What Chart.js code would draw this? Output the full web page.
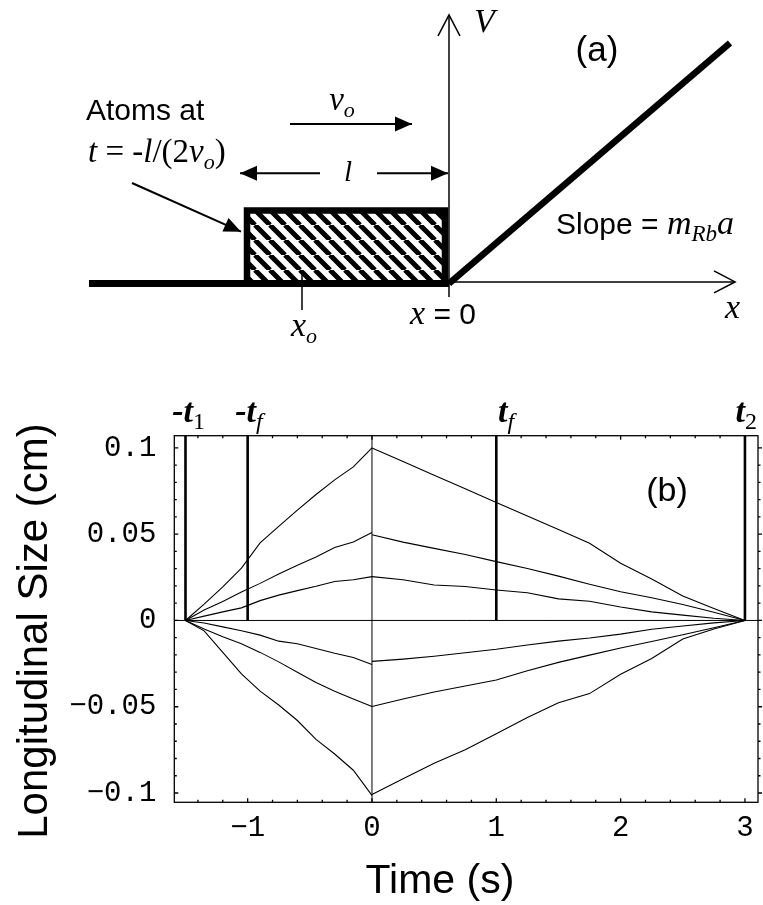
<!DOCTYPE html>
<html>
<head>
<meta charset="utf-8">
<script src="https://cdn.jsdelivr.net/npm/chart.js@4.4.0/dist/chart.umd.min.js"></script>
<style>
  body { margin: 0; background: #fff; }
  #wrap { position: relative; width: 763px; height: 905px; }
  canvas { position: absolute; left: 0; }
</style>
</head>
<body>
<div id="wrap">
  <canvas id="diagram" width="763" height="355" style="top:0"></canvas>
  <canvas id="plot" width="763" height="550" style="top:355px"></canvas>
</div>
<script>
// ---- panel (b) data: longitudinal size (cm) vs time (s)
var tLeft  = [-1.5, -1.35, -1.2, -1.05, -0.9, -0.75, -0.6, -0.45, -0.3, -0.15, 0];
var tRight = [0, 0.25, 0.5, 0.75, 1, 1.25, 1.5, 1.75, 2, 2.25, 2.5, 2.75, 3];

var upper1L = [0, 0.0095, 0.0195, 0.0304, 0.045, 0.0545, 0.064, 0.073, 0.0815, 0.089, 0.1];
var upper1R = [0.1, 0.0921, 0.0842, 0.0763, 0.0684, 0.0605, 0.0527, 0.0448, 0.0332, 0.024, 0.0142, 0.0069, 0];
var upper2L = [0, 0.006, 0.011, 0.0165, 0.0215, 0.027, 0.032, 0.0368, 0.0423, 0.0455, 0.051];
var upper2R = [0.0497, 0.0454, 0.0418, 0.0382, 0.0341, 0.0301, 0.0257, 0.021, 0.0166, 0.0132, 0.0093, 0.0048, 0];
var upper3L = [0, 0.0025, 0.005, 0.0073, 0.0115, 0.0147, 0.0173, 0.0198, 0.0226, 0.0236, 0.0254];
var upper3R = [0.0254, 0.0236, 0.0206, 0.0197, 0.0177, 0.0161, 0.0125, 0.0111, 0.0078, 0.005, 0.0031, 0.0013, 0];
var lower1L = [0, -0.006, -0.0185, -0.031, -0.041, -0.049, -0.058, -0.0689, -0.0774, -0.0868, -0.1014];
var lower1R = [-0.1009, -0.0918, -0.0828, -0.075, -0.0656, -0.0562, -0.0477, -0.0424, -0.0312, -0.022, -0.0108, -0.0049, 0];
var lower2L = [0, -0.005, -0.0095, -0.0135, -0.0185, -0.024, -0.03, -0.036, -0.041, -0.0455, -0.0499];
var lower2R = [-0.0499, -0.0455, -0.0415, -0.038, -0.0345, -0.0292, -0.0243, -0.0201, -0.016, -0.0122, -0.0083, -0.0042, 0];
var lower3L = [0, -0.0015, -0.0037, -0.006, -0.0085, -0.012, -0.0135, -0.0162, -0.019, -0.0215, -0.0255];
var lower3R = [-0.0237, -0.0224, -0.0207, -0.0187, -0.0167, -0.0142, -0.012, -0.0102, -0.0079, -0.0051, -0.0032, -0.0014, 0];

var markTimes = [-1.5, -1, 1, 3];          // -t1, -tf, tf, t2
var xTicks = [-1, 0, 1, 2, 3];
var xTickLabels = ['\u22121', '0', '1', '2', '3'];
var yTicks = [-0.1, -0.05, 0, 0.05, 0.1];
var yTickLabels = ['\u22120.1', '\u22120.05', '0', '0.05', '0.1'];
var xMin = -1.59, xMax = 3.105, yMin = -0.1054, yMax = 0.1071;

// ---- panel (a) schematic, lengths in units of the cloud size l
var floorX = [-1.8, 0], floorY = [0, 0];
var cloudX = [-1.01, -1.01, -0.02, -0.02, -1.01], cloudY = [0, 0.365, 0.365, 0, 0];
var rampX = [0, 1.405], rampY = [0, 1.2025];
var vAxisX = [0, 0], vAxisY = [-0.0675, 1.3425];
var xAxisX = [0, 1.43], xAxisY = [0.008, 0.008];
var xoTickX = [-0.735, -0.735], xoTickY = [0.0575, -0.1325];
var velX = [-0.795, -0.185], velY = [0.7975, 0.7975];
var lenLeftX = [-0.645, -1.045], lenRightX = [-0.36, -0.005], lenY = [0.551, 0.551];
var pointerX = [-1.585, -1.04], pointerY = [0.5025, 0.259];

var SERIF = '"Liberation Serif", "Times New Roman", serif';
var SANS = '"Liberation Sans", Arial, sans-serif';
var MONO = '"Liberation Mono", "Courier New", monospace';
Chart.defaults.color = '#000';

function pts(xs, ys) {
  return xs.map(function (x, i) { return {x: x, y: ys[i]}; });
}

function minorTicks(lo, hi, step) {
  var out = [];
  for (var v = Math.ceil(lo / step - 1e-9); v * step <= hi + 1e-9; v++) out.push({value: +(v * step).toFixed(6)});
  return out;
}

// text with italic / subscript pieces, placed in data units
function textLayer(labels) {
  return {
    id: 'textLayer',
    afterDraw: function (chart) {
      var ctx = chart.ctx, sx = chart.scales.x, sy = chart.scales.y;
      labels.forEach(function (lb) {
        ctx.save();
        ctx.translate(sx.getPixelForValue(lb.x), sy.getPixelForValue(lb.y));
        if (lb.rotate) ctx.rotate(lb.rotate * Math.PI / 180);
        ctx.fillStyle = '#000';
        ctx.textBaseline = lb.baseline || 'alphabetic';
        var w = 0;
        lb.parts.forEach(function (p) { ctx.font = p.f; w += ctx.measureText(p.t).width; });
        var x = lb.align === 'center' ? -w / 2 : 0;
        lb.parts.forEach(function (p) {
          ctx.font = p.f;
          ctx.fillText(p.t, x, p.dy || 0);
          x += ctx.measureText(p.t).width;
        });
        ctx.restore();
      });
    }
  };
}

// arrow heads at the last point of datasets marked with head
var arrowHeads = {
  id: 'arrowHeads',
  afterDatasetsDraw: function (chart) {
    var ctx = chart.ctx;
    chart.data.datasets.forEach(function (ds, i) {
      if (!ds.head) return;
      var el = chart.getDatasetMeta(i).data;
      var a = el[el.length - 2], b = el[el.length - 1];
      var ang = Math.atan2(b.y - a.y, b.x - a.x);
      ctx.save();
      ctx.translate(b.x, b.y);
      ctx.rotate(ang);
      ctx.beginPath();
      if (ds.head === 'solid') {
        ctx.moveTo(0, 0); ctx.lineTo(-17, -7.5); ctx.lineTo(-17, 7.5); ctx.closePath();
        ctx.fillStyle = '#000'; ctx.fill();
      } else {
        ctx.moveTo(-21, -11); ctx.lineTo(0, 0); ctx.lineTo(-21, 11);
        ctx.strokeStyle = '#000'; ctx.lineWidth = 1.6; ctx.stroke();
      }
      ctx.restore();
    });
  }
};

var frameTicks = {
  id: 'frameTicks',
  afterDatasetsDraw: function (chart) {
    var ctx = chart.ctx, a = chart.chartArea, sx = chart.scales.x, sy = chart.scales.y;
    ctx.save();
    ctx.strokeStyle = '#000';
    ctx.lineWidth = 1.3;
    ctx.strokeRect(a.left, a.top, a.right - a.left, a.bottom - a.top);
    ctx.beginPath();
    sx.ticks.forEach(function (t) {
      var p = sx.getPixelForValue(t.value), len = t.label ? 4 : 2.5;
      ctx.moveTo(p, a.bottom); ctx.lineTo(p, a.bottom - len);
      ctx.moveTo(p, a.top); ctx.lineTo(p, a.top + len);
    });
    sy.ticks.forEach(function (t) {
      var p = sy.getPixelForValue(t.value), len = t.label ? 4 : 2.5;
      ctx.moveTo(a.left, p); ctx.lineTo(a.left + len, p);
      ctx.moveTo(a.right, p); ctx.lineTo(a.right + len, p);
    });
    ctx.stroke();
    ctx.restore();
  }
};

function hatch() {
  var p = 15, c = document.createElement('canvas');
  c.width = p; c.height = p;
  var g = c.getContext('2d');
  g.strokeStyle = '#000';
  g.lineWidth = 5;
  g.beginPath();
  for (var k = -1; k <= 1; k++) { g.moveTo(k * p, 0); g.lineTo(k * p + p, p); }
  g.stroke();
  return g.createPattern(c, 'repeat');
}

// ---------------- panel (a)
function line(xs, ys, w, extra) {
  var d = {data: pts(xs, ys), borderColor: '#000', borderWidth: w, pointRadius: 0, fill: false, tension: 0};
  for (var k in extra) d[k] = extra[k];
  return d;
}

var it = function (s) { return 'italic ' + s + 'px ' + SERIF; };
var up = function (s) { return s + 'px ' + SERIF; };
var sans = function (s) { return s + 'px ' + SANS; };

var diagramLabels = [
  {x: -1.815, y: 0.8175, parts: [{t: 'Atoms at', f: sans(30)}]},
  {x: -1.805, y: 0.6075, parts: [
    {t: 't', f: it(33)}, {t: ' = -', f: up(33)}, {t: 'l', f: it(33)}, {t: '/(2', f: up(33)},
    {t: 'v', f: it(33)}, {t: 'o', f: it(22), dy: 7}, {t: ')', f: up(33)}]},
  {x: -0.535, y: 0.8675, align: 'center', parts: [{t: 'v', f: it(33)}, {t: 'o', f: it(22), dy: 7}]},
  {x: -0.505, y: 0.5125, align: 'center', parts: [{t: 'l', f: it(29)}]},
  {x: 0.535, y: 0.2475, parts: [
    {t: 'Slope = ', f: sans(30)}, {t: 'm', f: it(34)}, {t: 'Rb', f: it(23), dy: 7}, {t: 'a', f: it(34)}]},
  {x: 0.125, y: 1.2575, parts: [{t: 'V', f: it(34)}]},
  {x: 0.74, y: 1.1125, align: 'center', parts: [{t: '(a)', f: sans(35)}]},
  {x: -0.79, y: -0.2625, parts: [{t: 'x', f: it(34)}, {t: 'o', f: it(22), dy: 7}]},
  {x: -0.195, y: -0.2, parts: [{t: 'x', f: it(34)}, {t: ' = 0', f: sans(30)}]},
  {x: 1.38, y: -0.1725, parts: [{t: 'x', f: it(34)}]}
];

new Chart(document.getElementById('diagram'), {
  type: 'line',
  data: {
    datasets: [
      line(cloudX, cloudY, 6.5, {borderJoinStyle: 'miter'}),
      line(floorX, floorY, 7),
      line(rampX, rampY, 6.5),
      line(vAxisX, vAxisY, 1.5, {head: 'open'}),
      line(xAxisX, xAxisY, 1.5, {head: 'open'}),
      line(xoTickX, xoTickY, 1.5),
      line(velX, velY, 2, {head: 'solid'}),
      line(lenLeftX, lenY, 2, {head: 'solid'}),
      line(lenRightX, lenY, 2, {head: 'solid'}),
      line(pointerX, pointerY, 2, {head: 'solid'}),
      line([cloudX[1], cloudX[2]], [cloudY[1], cloudY[2]], 0, {fill: 'origin', backgroundColor: hatch()})
    ]
  },
  options: {
    responsive: false,
    animation: false,
    layout: {padding: 0},
    scales: {
      x: {type: 'linear', display: false, min: -2.245, max: 1.57},
      y: {type: 'linear', display: false, min: -0.3575, max: 1.4175}
    },
    plugins: {legend: {display: false}, tooltip: {enabled: false}}
  },
  plugins: [arrowHeads, textLayer(diagramLabels)]
});

// ---------------- panel (b)
var curves = [
  [tLeft, upper1L], [tRight, upper1R], [tLeft, upper2L], [tRight, upper2R],
  [tLeft, upper3L], [tRight, upper3R], [tLeft, lower1L], [tRight, lower1R],
  [tLeft, lower2L], [tRight, lower2R], [tLeft, lower3L], [tRight, lower3R]
];
var plotSets = curves.map(function (c) { return line(c[0], c[1], 1.1); });
plotSets.push(line([xMin, xMax], [0, 0], 1));
plotSets.push(line([0, 0], [yMin, yMax], 1));
markTimes.forEach(function (t) { plotSets.push(line([t, t], [0, yMax], 2.6)); });

var bIt = 'bold italic 34px ' + SERIF;
var plotLabels = [
  {x: -1.475, y: 0.1151, align: 'center', parts: [{t: '-t', f: bIt}, {t: '1', f: up(24), dy: 7}]},
  {x: -0.99, y: 0.1151, align: 'center', parts: [{t: '-t', f: bIt}, {t: 'f', f: it(24), dy: 7}]},
  {x: 1.078, y: 0.1151, align: 'center', parts: [{t: 't', f: bIt}, {t: 'f', f: it(24), dy: 7}]},
  {x: 3.01, y: 0.1151, align: 'center', parts: [{t: 't', f: bIt}, {t: '2', f: up(24), dy: 7}]},
  {x: 2.373, y: 0.0693, align: 'center', parts: [{t: '(b)', f: sans(34)}]},
  {x: 0.547, y: -0.158, align: 'center', parts: [{t: 'Time (s)', f: sans(41)}]},
  {x: -2.711, y: -0.0061, align: 'center', rotate: -90, baseline: 'middle',
    parts: [{t: 'Longitudinal Size (cm)', f: sans(42)}]}
];

function pickLabel(vals, labels) {
  return function (v) {
    for (var i = 0; i < vals.length; i++) if (Math.abs(vals[i] - v) < 1e-6) return labels[i];
    return '';
  };
}

new Chart(document.getElementById('plot'), {
  type: 'line',
  data: {datasets: plotSets},
  options: {
    responsive: false,
    animation: false,
    layout: {padding: {top: 80.7, right: 5, bottom: 0, left: 0}},
    scales: {
      x: {
        type: 'linear', min: xMin, max: xMax,
        grid: {display: false, drawTicks: false},
        border: {display: false},
        afterBuildTicks: function (s) { s.ticks = minorTicks(xMin, xMax, 0.2); },
        afterFit: function (s) { s.height = 102.7; },
        ticks: {
          autoSkip: false, maxRotation: 0, minRotation: 0, padding: 9,
          font: {family: MONO, size: 29}, color: '#000',
          callback: pickLabel(xTicks, xTickLabels)
        }
      },
      y: {
        type: 'linear', min: yMin, max: yMax,
        grid: {display: false, drawTicks: false},
        border: {display: false},
        afterBuildTicks: function (s) { s.ticks = minorTicks(yMin, yMax, 0.01); },
        afterFit: function (s) { s.width = 174.3; },
        ticks: {
          autoSkip: false, padding: 18,
          font: {family: MONO, size: 29}, color: '#000',
          callback: pickLabel(yTicks, yTickLabels)
        }
      }
    },
    plugins: {legend: {display: false}, tooltip: {enabled: false}}
  },
  plugins: [frameTicks, textLayer(plotLabels)]
});
</script>
</body>
</html>
